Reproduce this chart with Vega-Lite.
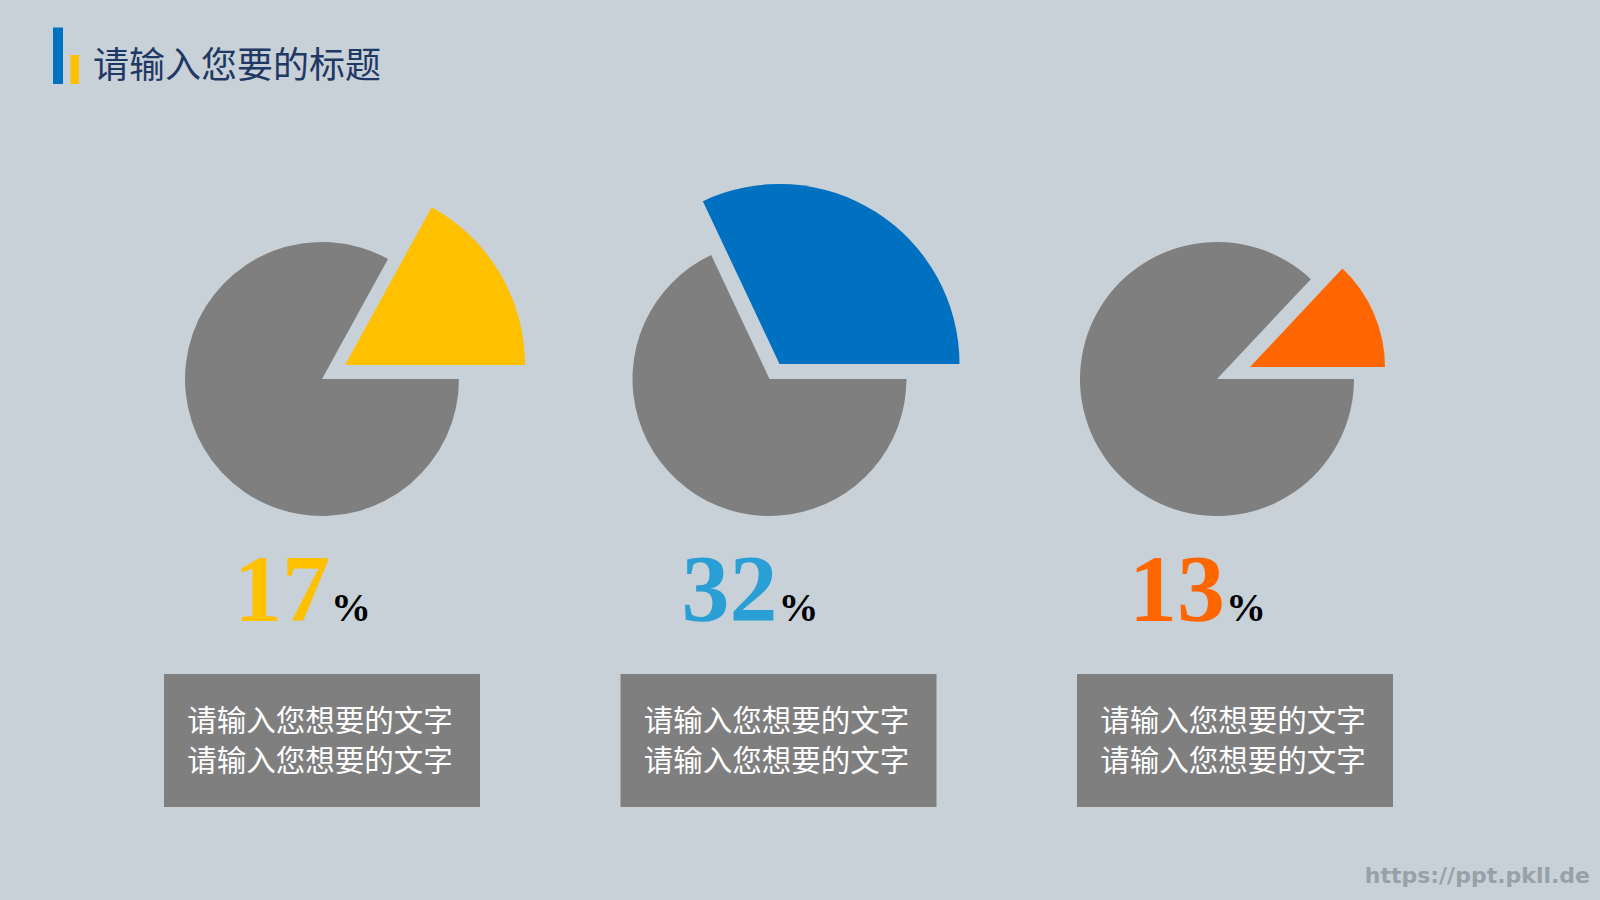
{
  "$schema": "https://vega.github.io/schema/vega-lite/v6.json",
  "width": 1600,
  "height": 900,
  "autosize": {"type": "none"},
  "padding": 0,
  "background": "#c8d1d8",
  "config": {"view": {"stroke": null}},
  "datasets": {
    "pies": [
      {"item": "A", "part": "rest", "value": 83},
      {"item": "A", "part": "share", "value": 17},
      {"item": "B", "part": "rest", "value": 68},
      {"item": "B", "part": "share", "value": 32},
      {"item": "C", "part": "rest", "value": 87},
      {"item": "C", "part": "share", "value": 13}
    ],
    "labels": [
      {"item": "A", "pct": 17, "unit": "%", "desc": ["请输入您想要的文字", "请输入您想要的文字"]},
      {"item": "B", "pct": 32, "unit": "%", "desc": ["请输入您想要的文字", "请输入您想要的文字"]},
      {"item": "C", "pct": 13, "unit": "%", "desc": ["请输入您想要的文字", "请输入您想要的文字"]}
    ],
    "meta": [
      {"title": "请输入您要的标题", "source": "https://ppt.pkll.de"}
    ]
  },
  "resolve": {"scale": {"x": "independent"}},
  "layer": [
    {
      "data": {"name": "meta"},
      "mark": {"type": "rect", "color": "#0070C0"},
      "encoding": {
        "x": {"datum": 53, "type": "quantitative", "scale": {"domain": [0, 1600], "range": [0, 1600]}, "axis": null},
        "x2": {"datum": 63},
        "y": {"datum": 27.5, "type": "quantitative", "scale": {"domain": [0, 900], "range": [0, 900]}, "axis": null},
        "y2": {"datum": 84}
      }
    },
    {
      "data": {"name": "meta"},
      "mark": {"type": "rect", "color": "#FFC000"},
      "encoding": {
        "x": {"datum": 70.5, "type": "quantitative", "scale": {"domain": [0, 1600], "range": [0, 1600]}, "axis": null},
        "x2": {"datum": 79},
        "y": {"datum": 55, "type": "quantitative", "scale": {"domain": [0, 900], "range": [0, 900]}, "axis": null},
        "y2": {"datum": 84}
      }
    },
    {
      "data": {"name": "meta"},
      "mark": {"type": "text", "align": "left", "baseline": "middle", "font": "Noto Sans CJK SC", "fontSize": 36, "color": "#1F3864"},
      "encoding": {
        "x": {"datum": 93, "type": "quantitative", "scale": {"domain": [0, 1600], "range": [0, 1600]}, "axis": null},
        "y": {"datum": 67, "type": "quantitative", "scale": {"domain": [0, 900], "range": [0, 900]}, "axis": null},
        "text": {"field": "title", "type": "nominal"}
      }
    },
    {
      "data": {"name": "pies"},
      "transform": [
        {"stack": "value", "groupby": ["item"], "sort": [{"field": "part", "order": "ascending"}], "as": ["v0", "v1"]},
        {"filter": "datum.part === 'rest'"}
      ],
      "mark": {"type": "arc", "radius": 137, "color": "#7F7F7F"},
      "encoding": {
        "x": {"field": "item", "type": "nominal", "scale": {"type": "point", "domain": ["A", "B", "C"], "range": [322, 1217], "padding": 0}, "axis": null},
        "y": {"datum": 379, "type": "quantitative", "scale": {"domain": [0, 900], "range": [0, 900]}, "axis": null},
        "theta": {"field": "v0", "type": "quantitative", "scale": {"domain": [0, 100], "range": [1.5707963, 7.8539816]}},
        "theta2": {"field": "v1"}
      }
    },
    {
      "data": {"name": "pies"},
      "transform": [
        {"stack": "value", "groupby": ["item"], "sort": [{"field": "part", "order": "ascending"}], "as": ["v0", "v1"]},
        {"filter": "datum.part === 'share' && datum.item === 'A'"}
      ],
      "mark": {"type": "arc", "radius": 180, "color": "#FFC000", "xOffset": 23, "yOffset": -14},
      "encoding": {
        "x": {"field": "item", "type": "nominal", "scale": {"type": "point", "domain": ["A", "B", "C"], "range": [322, 1217], "padding": 0}, "axis": null},
        "y": {"datum": 379, "type": "quantitative", "scale": {"domain": [0, 900], "range": [0, 900]}, "axis": null},
        "theta": {"field": "v0", "type": "quantitative", "scale": {"domain": [0, 100], "range": [1.5707963, 7.8539816]}},
        "theta2": {"field": "v1"}
      }
    },
    {
      "data": {"name": "pies"},
      "transform": [
        {"stack": "value", "groupby": ["item"], "sort": [{"field": "part", "order": "ascending"}], "as": ["v0", "v1"]},
        {"filter": "datum.part === 'share' && datum.item === 'B'"}
      ],
      "mark": {"type": "arc", "radius": 180, "color": "#0070C0", "xOffset": 10, "yOffset": -15},
      "encoding": {
        "x": {"field": "item", "type": "nominal", "scale": {"type": "point", "domain": ["A", "B", "C"], "range": [322, 1217], "padding": 0}, "axis": null},
        "y": {"datum": 379, "type": "quantitative", "scale": {"domain": [0, 900], "range": [0, 900]}, "axis": null},
        "theta": {"field": "v0", "type": "quantitative", "scale": {"domain": [0, 100], "range": [1.5707963, 7.8539816]}},
        "theta2": {"field": "v1"}
      }
    },
    {
      "data": {"name": "pies"},
      "transform": [
        {"stack": "value", "groupby": ["item"], "sort": [{"field": "part", "order": "ascending"}], "as": ["v0", "v1"]},
        {"filter": "datum.part === 'share' && datum.item === 'C'"}
      ],
      "mark": {"type": "arc", "radius": 135, "color": "#FF6600", "xOffset": 33, "yOffset": -12},
      "encoding": {
        "x": {"field": "item", "type": "nominal", "scale": {"type": "point", "domain": ["A", "B", "C"], "range": [322, 1217], "padding": 0}, "axis": null},
        "y": {"datum": 379, "type": "quantitative", "scale": {"domain": [0, 900], "range": [0, 900]}, "axis": null},
        "theta": {"field": "v0", "type": "quantitative", "scale": {"domain": [0, 100], "range": [1.5707963, 7.8539816]}},
        "theta2": {"field": "v1"}
      }
    },
    {
      "data": {"name": "labels"},
      "mark": {"type": "text", "align": "right", "baseline": "alphabetic", "font": "Liberation Serif", "fontWeight": "bold", "fontSize": 96, "dx": 8},
      "encoding": {
        "x": {"field": "item", "type": "nominal", "scale": {"type": "point", "domain": ["A", "B", "C"], "range": [322, 1217], "padding": 0}, "axis": null},
        "y": {"datum": 621, "type": "quantitative", "scale": {"domain": [0, 900], "range": [0, 900]}, "axis": null},
        "text": {"field": "pct", "type": "quantitative"},
        "color": {"field": "item", "type": "nominal", "scale": {"domain": ["A", "B", "C"], "range": ["#FFC000", "#2A9FD6", "#FF6600"]}, "legend": null}
      }
    },
    {
      "data": {"name": "labels"},
      "mark": {"type": "text", "align": "left", "baseline": "alphabetic", "font": "Liberation Serif", "fontWeight": "bold", "fontSize": 40, "dx": 9, "color": "#000000"},
      "encoding": {
        "x": {"field": "item", "type": "nominal", "scale": {"type": "point", "domain": ["A", "B", "C"], "range": [322, 1217], "padding": 0}, "axis": null},
        "y": {"datum": 621, "type": "quantitative", "scale": {"domain": [0, 900], "range": [0, 900]}, "axis": null},
        "text": {"field": "unit", "type": "nominal"}
      }
    },
    {
      "data": {"name": "labels"},
      "mark": {"type": "bar", "color": "#7F7F7F"},
      "encoding": {
        "x": {"field": "item", "type": "nominal", "scale": {"type": "band", "domain": ["A", "B", "C"], "range": [164, 1393], "paddingInner": 0.3078, "paddingOuter": 0}, "axis": null},
        "y": {"datum": 674, "type": "quantitative", "scale": {"domain": [0, 900], "range": [0, 900]}, "axis": null},
        "y2": {"datum": 807}
      }
    },
    {
      "data": {"name": "labels"},
      "mark": {"type": "text", "align": "center", "baseline": "middle", "font": "Noto Sans CJK SC", "fontSize": 29.5, "lineHeight": 40, "color": "#FFFFFF", "dx": -2},
      "encoding": {
        "x": {"field": "item", "type": "nominal", "scale": {"type": "band", "domain": ["A", "B", "C"], "range": [164, 1393], "paddingInner": 0.3078, "paddingOuter": 0}, "axis": null},
        "y": {"datum": 722, "type": "quantitative", "scale": {"domain": [0, 900], "range": [0, 900]}, "axis": null},
        "text": {"field": "desc", "type": "nominal"}
      }
    },
    {
      "data": {"name": "meta"},
      "mark": {"type": "text", "align": "right", "baseline": "alphabetic", "font": "DejaVu Sans", "fontWeight": "bold", "fontSize": 22, "color": "#98A1A9"},
      "encoding": {
        "x": {"datum": 1590, "type": "quantitative", "scale": {"domain": [0, 1600], "range": [0, 1600]}, "axis": null},
        "y": {"datum": 883, "type": "quantitative", "scale": {"domain": [0, 900], "range": [0, 900]}, "axis": null},
        "text": {"field": "source", "type": "nominal"}
      }
    }
  ]
}
